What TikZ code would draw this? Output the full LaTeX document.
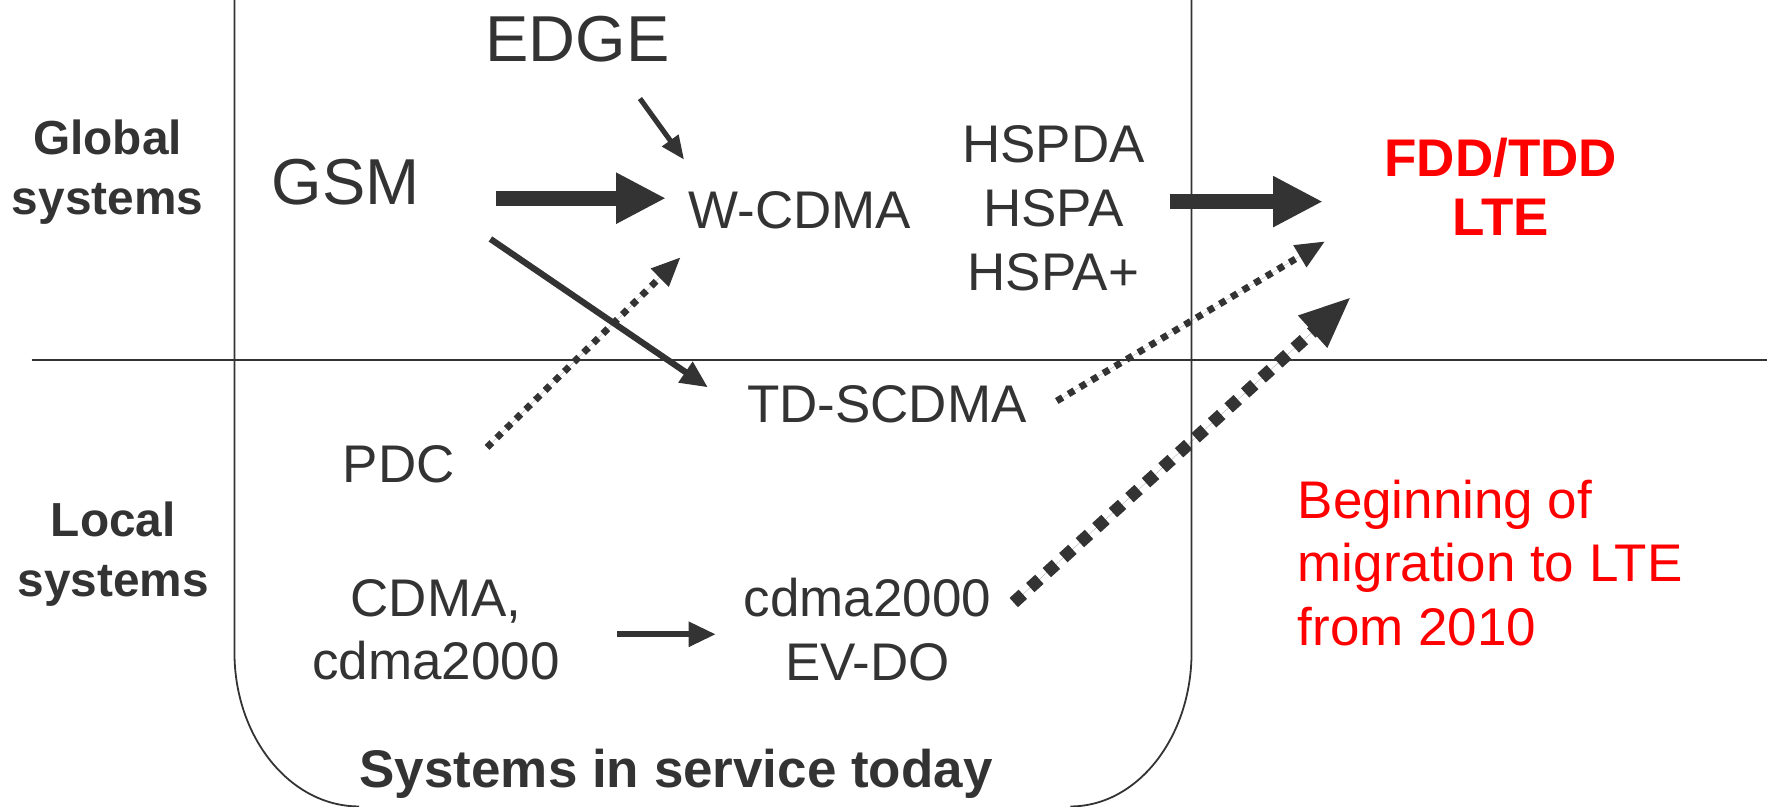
\documentclass[tikz,border=0pt]{standalone}
\usepackage{fontspec}
\setmainfont{Liberation Sans}
\usepackage{xcolor}
\usetikzlibrary{arrows.meta}
\definecolor{ink}{HTML}{333333}
\definecolor{hot}{HTML}{FF0000}

\begin{document}
\begin{tikzpicture}[x=0.01cm, y=-0.01cm, sys/.style={inner sep=0pt, text=ink, align=center, font=\fontsize{13.3}{16}\selectfont}, big/.style={sys, font=\fontsize{16.3}{19}\selectfont}, side/.style={sys, font=\fontsize{12}{15}\selectfont\bfseries}, goal/.style={sys, text=hot, font=\fontsize{13.3}{15}\selectfont\bfseries}, frame/.style={draw=ink, line width=0.45pt}, fat arrow/.style={draw=ink, fill=ink, line width=1.3mm, -{Triangle[length=4.4mm,width=4.2mm]}}, mid arrow/.style={draw=ink, fill=ink, line width=0.55mm, -{Triangle[length=2.4mm,width=2.1mm]}}, thin arrow/.style={draw=ink, fill=ink, line width=0.45mm, -{Triangle[length=2.1mm,width=1.7mm]}}, dot arrow/.style={draw=ink, fill=ink, line width=0.6mm, dash pattern=on 1.7pt off 1.7pt, -{Triangle[length=2.6mm,width=2.1mm]}}, fat dot arrow/.style={draw=ink, fill=ink, line width=1.1mm, dash pattern=on 3.1pt off 2.5pt, -{Triangle[length=4.6mm,width=3.5mm]}}]
	\useasboundingbox (0,0) rectangle (1568,712);
	\draw[frame] (207,0) -- (207,576) arc[start angle=180, end angle=90, x radius=110, y radius=136];
	\draw[frame] (1052,0) -- (1052,576) arc[start angle=0, end angle=90, x radius=107, y radius=136];
	\draw[frame] (28,318) -- (1560,318);
	\node[side] (global) at (95,152) {Global\\systems};
	\node[side] (local) at (100,489) {Local\\systems};
	\node[big] (edge) at (510,35) {EDGE};
	\node[big] (gsm) at (305,161) {GSM};
	\node[sys] (wcdma) at (706,186) {W-CDMA};
	\node[sys] (hspa) at (930,184) {HSPDA\\HSPA\\HSPA+};
	\node[goal] (lte) at (1325,165) {FDD/TDD\\LTE};
	\node[sys] (tdscdma) at (783,357) {TD-SCDMA};
	\node[sys] (pdc) at (352,410) {PDC};
	\node[sys] (cdma) at (385,556) {CDMA,\\cdma2000};
	\node[sys] (evdo) at (766,556) {cdma2000\\EV-DO};
	\node[sys, text=hot, align=left, anchor=west] (migr) at (1145,497) {Beginning of\\migration to LTE\\from 2010};
	\node[sys, font=\fontsize{13.3}{16}\selectfont\bfseries] (today) at (597,683) {Systems in service today};
	\draw[thin arrow] ([shift={(55,52)}]edge.center) -- ([shift={(-102,-45)}]wcdma.center);
	\draw[fat arrow] ([shift={(133,14)}]gsm.center) -- ([shift={(-118,-11)}]wcdma.center);
	\draw[mid arrow] ([shift={(128,50)}]gsm.center) -- ([shift={(-158,-15)}]tdscdma.center);
	\draw[dot arrow] ([shift={(78,-15)}]pdc.center) -- ([shift={(-105,41)}]wcdma.center);
	\draw[fat arrow] ([shift={(103,-6)}]hspa.center) -- ([shift={(-157,13)}]lte.center);
	\draw[dot arrow] ([shift={(150,-3)}]tdscdma.center) -- ([shift={(-155,48)}]lte.center);
	\draw[fat dot arrow] ([shift={(129,-24)}]evdo.center) -- ([shift={(-132,97)}]lte.center);
	\draw[mid arrow] ([shift={(160,4)}]cdma.center) -- ([shift={(-134,4)}]evdo.center);
\end{tikzpicture}
\end{document}
